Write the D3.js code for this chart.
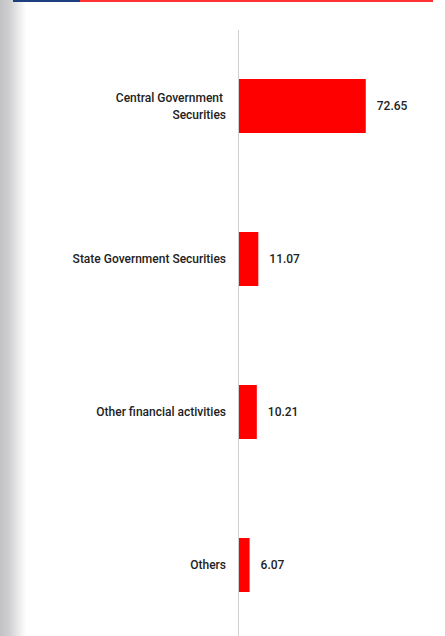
<!DOCTYPE html>
<html>
<head>
<meta charset="utf-8">
<script src="https://cdn.jsdelivr.net/npm/d3@7"></script>
<style>
html,body{margin:0;padding:0;background:#fff;}
svg{display:block;}
</style>
</head>
<body>
<div id="chart"></div>
<script>
const categories = [["Central Government ", "Securities"], ["State Government Securities"], ["Other financial activities"], ["Others"]];
const categoryKeys = ["Central Government Securities", "State Government Securities", "Other financial activities", "Others"];
const values = [72.65, 11.07, 10.21, 6.07];
const valueLabels = ["72.65", "11.07", "10.21", "6.07"];

const W = 445, H = 636;
const svg = d3.select("#chart").append("svg").attr("width", W).attr("height", H);

// left gray edge gradient
const defs = svg.append("defs");
const g1 = defs.append("linearGradient").attr("id", "edge").attr("x1", 0).attr("x2", 1).attr("y1", 0).attr("y2", 0);
g1.append("stop").attr("offset", "0%").attr("stop-color", "#c2c2c4");
g1.append("stop").attr("offset", "35%").attr("stop-color", "#cfcfd1");
g1.append("stop").attr("offset", "100%").attr("stop-color", "#ffffff");
svg.append("rect").attr("x", 0).attr("y", 0).attr("width", 26).attr("height", H).attr("fill", "url(#edge)");

// top bar
svg.append("rect").attr("x", 13).attr("y", 0).attr("width", 67).attr("height", 2).attr("fill", "#1c3f7e");
svg.append("rect").attr("x", 80).attr("y", 0).attr("width", 353).attr("height", 2).attr("fill", "#ff3333");

const x = d3.scaleLinear().domain([0, 80]).range([239, 239 + 80 * 1.745]);
const y = d3.scaleBand().domain(categoryKeys).range([29.5, 641.5]).paddingInner(0.647).paddingOuter(0.3235);

// axis line
svg.append("line").attr("x1", 238.5).attr("x2", 238.5).attr("y1", 30).attr("y2", H).attr("stroke", "#d0d0d0").attr("stroke-width", 1);

svg.selectAll("rect.bar").data(values).join("rect").attr("class", "bar")
  .attr("x", x(0))
  .attr("y", (d, i) => y(categoryKeys[i]))
  .attr("width", d => x(d) - x(0))
  .attr("height", y.bandwidth())
  .attr("fill", "#ff0000");

svg.selectAll("text.val").data(values).join("text").attr("class", "val")
  .attr("x", d => x(d) + 11)
  .attr("y", (d, i) => y(categoryKeys[i]) + y.bandwidth() / 2 + 4.3)
  .attr("font-family", "Roboto, sans-serif")
  .attr("font-size", 12)
  .attr("font-weight", 500)
  .attr("fill", "#222")
  .text((d, i) => valueLabels[i]);

const lab = svg.selectAll("text.lab").data(categories).join("text").attr("class", "lab")
  .attr("text-anchor", "end")
  .attr("font-family", "Roboto, sans-serif")
  .attr("font-size", 12)
  .attr("font-weight", 500)
  .attr("fill", "#222")
  .attr("xml:space", "preserve")
  .style("white-space", "pre");
lab.each(function(lines, i) {
  const cy = y(categoryKeys[i]) + y.bandwidth() / 2 + 4.3;
  const n = lines.length;
  lines.forEach((ln, j) => {
    d3.select(this).append("tspan")
      .attr("x", 226)
      .attr("y", cy + (j - (n - 1) / 2) * 16.5)
      .text(ln);
  });
});
</script>
</body>
</html>
